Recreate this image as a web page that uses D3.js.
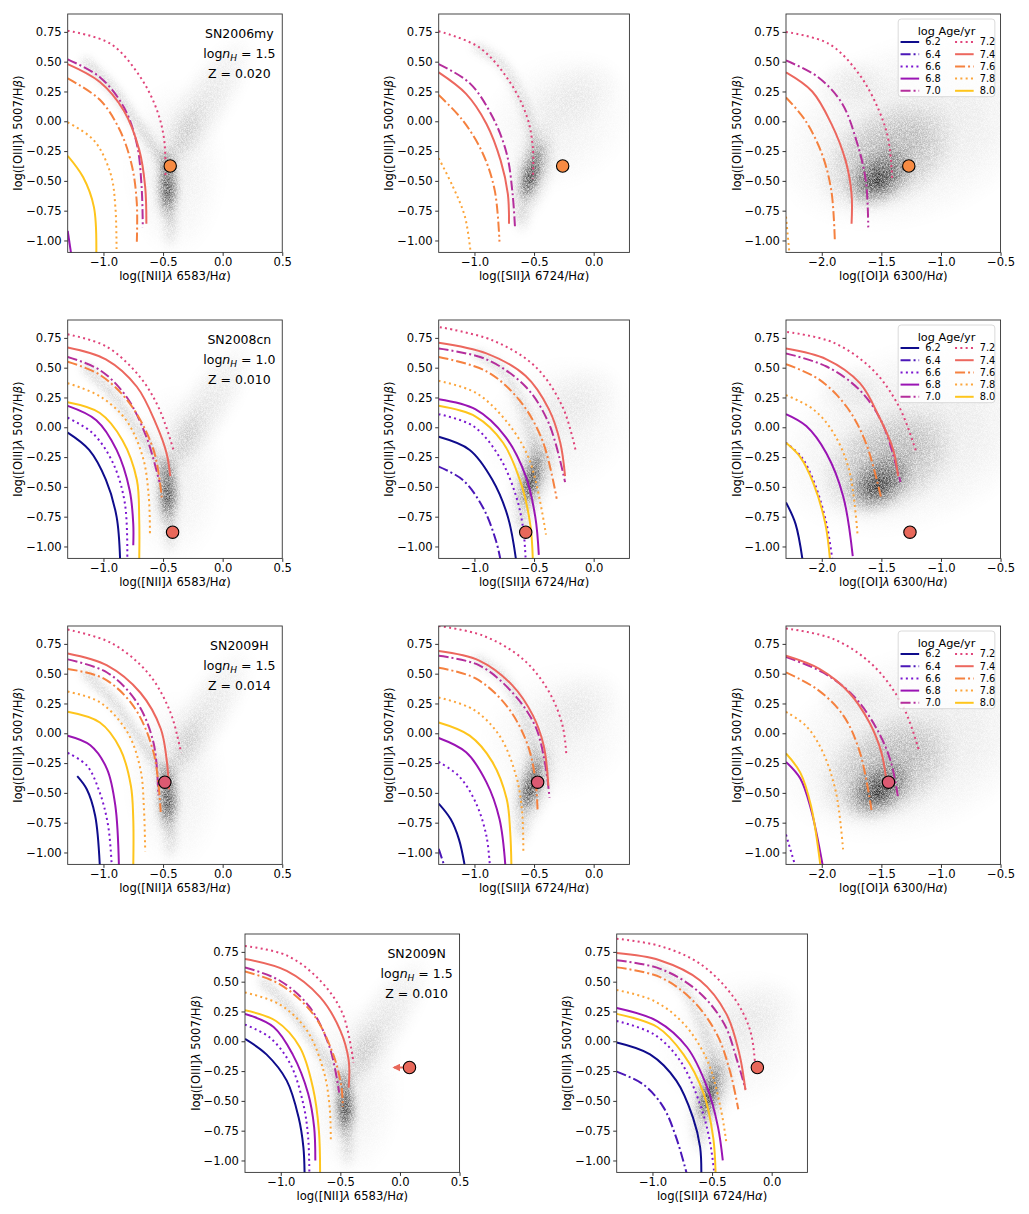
<!DOCTYPE html>
<html lang="en">
<head>
<meta charset="utf-8" />
<title>BPT diagrams with cluster age tracks</title>
<script src="https://cdn.jsdelivr.net/npm/d3@7"></script>
<style>
  body { margin: 0; background: #fff; }
  svg { font-family: "DejaVu Sans", sans-serif; }
</style>
</head>
<body>
<script>
// ages of the model tracks and their look
var ages = [6.2, 6.4, 6.6, 6.8, 7.0, 7.2, 7.4, 7.6, 7.8, 8.0];
var ageColors = ["#0f0c8c", "#4b17b8", "#7b16d0", "#9a14b4", "#b52e9c",
                 "#e0437a", "#ec675e", "#f5813f", "#fca53a", "#fec51c"];
var ageStyles = ["solid", "dashdot", "dotted", "solid", "dashdot",
                 "dotted", "solid", "dashdot", "dotted", "solid"];

// supernovae
var snNames = ["SN2006my", "SN2008cn", "SN2009H", "SN2009N"];
var snLogNH = ["1.5", "1.0", "1.5", "1.5"];
var snZ = ["0.020", "0.010", "0.014", "0.010"];
var snColors = ["#f78b43", "#e8685a", "#dc5a72", "#e8685a"];
var snNII = [[-0.44, -0.375], [-0.42, -0.88], [-0.485, -0.41], [0.08, -0.22]];
var snSII = [[-0.26, -0.375], [-0.57, -0.88], [-0.47, -0.41], [-0.12, -0.22]];
var snOI = [[-1.27, -0.375], [-1.26, -0.88], [-1.44, -0.41]];
var snNIIlimit = [null, null, null, -0.05];

// ticks
var yTicks = [0.75, 0.5, 0.25, 0, -0.25, -0.5, -0.75, -1.0];
var niiTicks = [-1.0, -0.5, 0.0, 0.5];
var siiTicks = [-1.0, -0.5, 0.0];
var oiTicks = [-2.0, -1.5, -1.0, -0.5];

// model tracks [age, points]
var sn2006myNII = [
  [6.8, [[-1.30, -0.92], [-1.27, -1.12]]],
  [7.0, [[-1.30, 0.52], [-1.03, 0.37], [-0.83, 0.12], [-0.72, -0.19], [-0.68, -0.55], [-0.67, -0.89]]],
  [7.2, [[-1.30, 0.76], [-0.94, 0.65], [-0.69, 0.37], [-0.55, 0.09], [-0.49, -0.16], [-0.48, -0.48]]],
  [7.4, [[-1.30, 0.48], [-1.03, 0.33], [-0.83, 0.09], [-0.70, -0.24], [-0.65, -0.55], [-0.64, -0.86]]],
  [7.6, [[-1.30, 0.36], [-1.03, 0.18], [-0.86, -0.08], [-0.76, -0.38], [-0.72, -0.69], [-0.72, -1.01]]],
  [7.8, [[-1.30, -0.01], [-1.08, -0.16], [-0.94, -0.44], [-0.90, -0.72], [-0.89, -1.12]]],
  [8.0, [[-1.30, -0.29], [-1.17, -0.47], [-1.08, -0.72], [-1.06, -1.12]]]
];
var sn2006mySII = [
  [7.0, [[-1.30, 0.48], [-1.04, 0.32], [-0.85, 0.04], [-0.73, -0.27], [-0.68, -0.61], [-0.66, -0.89]]],
  [7.2, [[-1.30, 0.756], [-0.96, 0.62], [-0.71, 0.34], [-0.56, 0.04], [-0.51, -0.22], [-0.51, -0.48]]],
  [7.4, [[-1.30, 0.41], [-1.07, 0.23], [-0.90, -0.02], [-0.78, -0.33], [-0.72, -0.61], [-0.71, -0.86]]],
  [7.6, [[-1.30, 0.22], [-1.10, 0.01], [-0.93, -0.27], [-0.83, -0.58], [-0.79, -1.01]]],
  [7.8, [[-1.30, -0.31], [-1.18, -0.55], [-1.08, -0.80], [-1.03, -1.12]]]
];
var sn2006myOI = [
  [7.0, [[-2.30, 0.51], [-2.03, 0.37], [-1.83, 0.15], [-1.71, -0.16], [-1.63, -0.50], [-1.61, -0.89]]],
  [7.2, [[-2.30, 0.75], [-1.94, 0.65], [-1.69, 0.40], [-1.52, 0.09], [-1.44, -0.16], [-1.41, -0.48]]],
  [7.4, [[-2.30, 0.41], [-2.08, 0.25], [-1.92, -0.02], [-1.80, -0.33], [-1.75, -0.61], [-1.75, -0.86]]],
  [7.6, [[-2.30, 0.20], [-2.14, 0.01], [-2.00, -0.27], [-1.92, -0.58], [-1.89, -1.01]]],
  [7.8, [[-2.30, -0.80], [-2.27, -1.12]]]
];
var sn2008cnNII = [
  [6.2, [[-1.30, -0.045], [-1.12, -0.19], [-0.98, -0.44], [-0.89, -0.75], [-0.86, -1.12]]],
  [6.6, [[-1.30, 0.08], [-1.09, -0.05], [-0.92, -0.30], [-0.82, -0.64], [-0.80, -1.12]]],
  [6.8, [[-1.30, 0.18], [-1.06, 0.06], [-0.89, -0.19], [-0.78, -0.53], [-0.75, -0.81], [-0.75, -0.99]]],
  [7.0, [[-1.30, 0.59], [-1.03, 0.48], [-0.81, 0.26], [-0.64, -0.08], [-0.53, -0.46]]],
  [7.2, [[-1.30, 0.78], [-0.98, 0.68], [-0.70, 0.43], [-0.53, 0.15], [-0.41, -0.20]]],
  [7.4, [[-1.30, 0.67], [-0.98, 0.57], [-0.72, 0.34], [-0.56, 0.03], [-0.47, -0.22], [-0.44, -0.41]]],
  [7.6, [[-1.30, 0.55], [-1.03, 0.44], [-0.78, 0.20], [-0.58, -0.19], [-0.51, -0.60]]],
  [7.8, [[-1.30, 0.37], [-1.03, 0.26], [-0.81, 0.06], [-0.67, -0.25], [-0.62, -0.58], [-0.61, -0.89]]],
  [8.0, [[-1.30, 0.21], [-1.03, 0.12], [-0.84, -0.11], [-0.72, -0.44], [-0.70, -0.78], [-0.70, -1.12]]]
];
var sn2008cnSII = [
  [6.2, [[-1.30, -0.08], [-1.04, -0.19], [-0.85, -0.44], [-0.72, -0.75], [-0.65, -1.12]]],
  [6.4, [[-1.30, -0.33], [-1.10, -0.44], [-0.93, -0.67], [-0.82, -0.95], [-0.78, -1.12]]],
  [6.6, [[-1.30, 0.11], [-1.01, 0.01], [-0.79, -0.25], [-0.65, -0.58], [-0.59, -0.86], [-0.57, -1.12]]],
  [6.8, [[-1.30, 0.235], [-0.99, 0.15], [-0.74, -0.08], [-0.57, -0.41], [-0.49, -0.75], [-0.46, -1.07]]],
  [7.0, [[-1.30, 0.66], [-0.90, 0.57], [-0.57, 0.34], [-0.375, 0.03], [-0.24, -0.46]]],
  [7.2, [[-1.29, 0.84], [-0.85, 0.73], [-0.49, 0.51], [-0.26, 0.17], [-0.15, -0.20]]],
  [7.4, [[-1.30, 0.71], [-0.90, 0.62], [-0.57, 0.43], [-0.375, 0.15], [-0.28, -0.13], [-0.24, -0.41]]],
  [7.6, [[-1.30, 0.59], [-0.90, 0.47], [-0.625, 0.23], [-0.43, -0.11], [-0.31, -0.60]]],
  [7.8, [[-1.30, 0.39], [-0.99, 0.29], [-0.74, 0.06], [-0.54, -0.27], [-0.40, -0.90]]],
  [8.0, [[-1.30, 0.18], [-0.99, 0.09], [-0.76, -0.13], [-0.60, -0.50], [-0.53, -0.83], [-0.51, -1.12]]]
];
var sn2008cnOI = [
  [6.2, [[-2.30, -0.63], [-2.22, -0.81], [-2.16, -1.12]]],
  [6.6, [[-2.30, -0.13], [-2.17, -0.25], [-2.06, -0.47], [-1.96, -0.81], [-1.91, -1.12]]],
  [6.8, [[-2.30, 0.11], [-2.13, 0.01], [-1.96, -0.22], [-1.82, -0.58], [-1.74, -1.08]]],
  [7.0, [[-2.30, 0.62], [-1.96, 0.51], [-1.68, 0.31], [-1.49, 0.03], [-1.34, -0.46]]],
  [7.2, [[-2.29, 0.80], [-1.90, 0.71], [-1.57, 0.48], [-1.35, 0.17], [-1.21, -0.20]]],
  [7.4, [[-2.30, 0.66], [-1.96, 0.57], [-1.68, 0.37], [-1.52, 0.09], [-1.40, -0.19], [-1.36, -0.41]]],
  [7.6, [[-2.30, 0.53], [-2.02, 0.40], [-1.79, 0.17], [-1.63, -0.13], [-1.50, -0.60]]],
  [7.8, [[-2.30, 0.27], [-2.07, 0.15], [-1.90, -0.05], [-1.77, -0.36], [-1.70, -0.90]]],
  [8.0, [[-2.30, -0.13], [-2.18, -0.25], [-2.07, -0.47], [-1.97, -0.81], [-1.93, -1.12]]]
];
var sn2009hNII = [
  [6.2, [[-1.22, -0.36], [-1.14, -0.47], [-1.07, -0.69], [-1.03, -1.12]]],
  [6.6, [[-1.30, -0.165], [-1.14, -0.27], [-1.03, -0.50], [-0.96, -0.78], [-0.93, -1.12]]],
  [6.8, [[-1.30, -0.02], [-1.11, -0.10], [-0.97, -0.30], [-0.90, -0.61], [-0.87, -1.12]]],
  [7.0, [[-1.30, 0.62], [-0.97, 0.51], [-0.72, 0.26], [-0.58, -0.08], [-0.54, -0.52]]],
  [7.2, [[-1.30, 0.87], [-0.94, 0.76], [-0.63, 0.51], [-0.44, 0.18], [-0.35, -0.16]]],
  [7.4, [[-1.30, 0.67], [-0.97, 0.57], [-0.69, 0.34], [-0.52, 0.04], [-0.47, -0.22], [-0.45, -0.47]]],
  [7.6, [[-1.30, 0.54], [-1.00, 0.46], [-0.75, 0.23], [-0.58, -0.16], [-0.52, -0.66]]],
  [7.8, [[-1.30, 0.35], [-1.03, 0.26], [-0.80, 0.01], [-0.69, -0.30], [-0.66, -0.64], [-0.65, -0.99]]],
  [8.0, [[-1.30, 0.18], [-1.03, 0.09], [-0.86, -0.13], [-0.77, -0.44], [-0.75, -0.72], [-0.75, -1.12]]]
];
var sn2009hSII = [
  [6.2, [[-1.30, -0.59], [-1.20, -0.72], [-1.13, -0.89], [-1.08, -1.12]]],
  [6.4, [[-1.30, -0.97], [-1.25, -1.12]]],
  [6.6, [[-1.30, -0.24], [-1.13, -0.36], [-0.99, -0.58], [-0.90, -0.86], [-0.87, -1.12]]],
  [6.8, [[-1.30, -0.04], [-1.07, -0.16], [-0.90, -0.41], [-0.79, -0.72], [-0.74, -1.12]]],
  [7.0, [[-1.30, 0.65], [-0.96, 0.57], [-0.68, 0.34], [-0.49, 0.06], [-0.41, -0.24], [-0.37, -0.54]]],
  [7.2, [[-1.30, 0.90], [-0.93, 0.82], [-0.59, 0.62], [-0.37, 0.34], [-0.26, 0.06], [-0.23, -0.17]]],
  [7.4, [[-1.30, 0.69], [-0.96, 0.61], [-0.68, 0.40], [-0.51, 0.15], [-0.42, -0.10], [-0.38, -0.44]]],
  [7.6, [[-1.30, 0.55], [-0.99, 0.46], [-0.73, 0.23], [-0.56, -0.08], [-0.49, -0.38], [-0.47, -0.66]]],
  [7.8, [[-1.30, 0.30], [-1.01, 0.20], [-0.79, -0.02], [-0.65, -0.36], [-0.60, -0.66], [-0.59, -0.99]]],
  [8.0, [[-1.30, 0.09], [-1.04, -0.02], [-0.85, -0.24], [-0.73, -0.55], [-0.70, -0.83], [-0.69, -1.12]]]
];
var sn2009hOI = [
  [6.6, [[-2.30, -0.85], [-2.22, -1.12]]],
  [6.8, [[-2.30, -0.24], [-2.18, -0.38], [-2.09, -0.64], [-1.99, -1.12]]],
  [7.0, [[-2.30, 0.64], [-1.99, 0.51], [-1.74, 0.32], [-1.54, 0.04], [-1.42, -0.24], [-1.36, -0.54]]],
  [7.2, [[-2.30, 0.88], [-1.90, 0.79], [-1.57, 0.57], [-1.32, 0.23], [-1.18, -0.16]]],
  [7.4, [[-2.30, 0.65], [-2.02, 0.54], [-1.77, 0.34], [-1.60, 0.09], [-1.50, -0.16], [-1.46, -0.38]]],
  [7.6, [[-2.30, 0.51], [-2.04, 0.37], [-1.82, 0.15], [-1.68, -0.16], [-1.58, -0.66]]],
  [7.8, [[-2.30, 0.18], [-2.13, 0.06], [-1.99, -0.16], [-1.88, -0.50], [-1.82, -0.99]]],
  [8.0, [[-2.30, -0.17], [-2.18, -0.33], [-2.09, -0.61], [-2.01, -1.12]]]
];
var sn2009nNII = [
  [6.2, [[-1.30, 0.02], [-1.12, -0.11], [-0.95, -0.33], [-0.85, -0.64], [-0.81, -0.89], [-0.80, -1.12]]],
  [6.6, [[-1.30, 0.14], [-1.09, 0.03], [-0.92, -0.19], [-0.81, -0.53], [-0.77, -0.81], [-0.76, -1.12]]],
  [6.8, [[-1.30, 0.23], [-1.06, 0.12], [-0.90, -0.11], [-0.77, -0.44], [-0.72, -0.72], [-0.71, -1.00]]],
  [7.0, [[-1.30, 0.62], [-1.01, 0.51], [-0.76, 0.29], [-0.59, -0.05], [-0.51, -0.43]]],
  [7.2, [[-1.30, 0.80], [-0.95, 0.72], [-0.67, 0.51], [-0.48, 0.23], [-0.39, -0.18]]],
  [7.4, [[-1.30, 0.69], [-0.95, 0.59], [-0.67, 0.37], [-0.50, 0.09], [-0.43, -0.16], [-0.43, -0.39]]],
  [7.6, [[-1.30, 0.585], [-1.01, 0.48], [-0.73, 0.23], [-0.56, -0.11], [-0.49, -0.39], [-0.48, -0.55]]],
  [7.8, [[-1.30, 0.41], [-1.01, 0.31], [-0.78, 0.09], [-0.64, -0.25], [-0.59, -0.55], [-0.58, -0.85]]],
  [8.0, [[-1.30, 0.26], [-1.04, 0.17], [-0.84, -0.05], [-0.73, -0.39], [-0.68, -0.75], [-0.67, -1.12]]]
];
var sn2009nSII = [
  [6.2, [[-1.30, -0.01], [-1.02, -0.11], [-0.80, -0.33], [-0.66, -0.64], [-0.60, -0.89], [-0.59, -1.12]]],
  [6.4, [[-1.30, -0.255], [-1.08, -0.36], [-0.91, -0.55], [-0.80, -0.81], [-0.71, -1.12]]],
  [6.6, [[-1.30, 0.17], [-0.99, 0.06], [-0.77, -0.16], [-0.60, -0.53], [-0.52, -0.83], [-0.48, -1.12]]],
  [6.8, [[-1.30, 0.28], [-0.96, 0.17], [-0.71, -0.05], [-0.54, -0.39], [-0.45, -0.72], [-0.41, -1.00]]],
  [7.0, [[-1.30, 0.68], [-0.94, 0.61], [-0.63, 0.43], [-0.40, 0.15], [-0.29, -0.16], [-0.22, -0.40]]],
  [7.2, [[-1.30, 0.86], [-0.94, 0.80], [-0.60, 0.65], [-0.32, 0.37], [-0.18, 0.09], [-0.14, -0.18]]],
  [7.4, [[-1.30, 0.74], [-0.94, 0.68], [-0.60, 0.51], [-0.38, 0.23], [-0.27, -0.11], [-0.22, -0.41]]],
  [7.6, [[-1.30, 0.62], [-0.94, 0.54], [-0.66, 0.34], [-0.46, 0.06], [-0.35, -0.25], [-0.28, -0.57]]],
  [7.8, [[-1.30, 0.43], [-0.99, 0.34], [-0.74, 0.15], [-0.54, -0.16], [-0.43, -0.55], [-0.38, -0.85]]],
  [8.0, [[-1.30, 0.23], [-0.96, 0.12], [-0.74, -0.11], [-0.57, -0.44], [-0.49, -0.81], [-0.47, -1.12]]]
];

// galaxy density, blobs [cx, cy, rx, ry, angle, alpha] and bands [points, width, alpha]
var niiBlobs = [
  [-0.40, -0.40, 0.42, 0.75, 0, 0.08],
  [-0.15, 0.15, 0.68, 0.23, 57, 0.12],
  [-0.32, -0.12, 0.34, 0.12, 62, 0.12],
  [-0.46, -0.56, 0.09, 0.30, 0, 0.75],
  [-0.46, -0.56, 0.05, 0.16, 0, 0.85],
  [-0.47, -0.34, 0.065, 0.13, 0, 0.4],
  [-0.44, -0.88, 0.065, 0.20, 0, 0.2]
];
var niiBands = [
  [[[-1.15, 0.50], [-0.92, 0.27], [-0.73, 0.0], [-0.56, -0.25], [-0.48, -0.42]], 0.06, 0.22]
];
var siiBlobs = [
  [-0.30, 0.00, 0.68, 0.56, 30, 0.07],
  [-0.15, 0.22, 0.42, 0.28, 30, 0.06],
  [-0.51, -0.42, 0.18, 0.46, -16, 0.25],
  [-0.52, -0.43, 0.08, 0.30, -16, 0.8],
  [-0.54, -0.50, 0.045, 0.15, -16, 0.75],
  [-0.60, -0.80, 0.08, 0.15, 0, 0.16]
];
var siiBands = [
  [[[-0.98, 0.62], [-0.77, 0.48], [-0.63, 0.25], [-0.54, 0.0], [-0.50, -0.2]], 0.07, 0.16]
];
var oiBlobs = [
  [-1.25, -0.08, 1.20, 0.78, 20, 0.12],
  [-1.45, -0.30, 0.64, 0.42, 30, 0.3],
  [-1.52, -0.47, 0.32, 0.21, 35, 0.65],
  [-1.54, -0.50, 0.15, 0.11, 35, 0.6],
  [-1.75, 0.32, 0.30, 0.22, 0, 0.08]
];
var oiBands = [];

// layout
var pxPerDex = 119.2;
var rowTop = [14, 320, 626, 934];
var colLeft = [67.7, 438.7, 786];
var row4Left = [245, 616.7];
var W = 1029, H = 1214;

var kinds = {
  nii: { domain: [-1.3, 0.5], ticks: niiTicks, ion: "[NII]", wave: " 6583/H", blobs: niiBlobs, bands: niiBands },
  sii: { domain: [-1.3, 0.3], ticks: siiTicks, ion: "[SII]", wave: " 6724/H", blobs: siiBlobs, bands: siiBands },
  oi:  { domain: [-2.3, -0.5], ticks: oiTicks, ion: "[OI]", wave: " 6300/H", blobs: oiBlobs, bands: oiBands }
};

var dashes = { solid: null, dashdot: "10,3,2,3", dotted: "2,3.3" };

var svg = d3.select("body").append("svg")
  .attr("width", W).attr("height", H);

var defs = svg.append("defs");

//Soft fall-off for the density blobs
var grad = defs.append("radialGradient").attr("id", "blobGrad");
grad.append("stop").attr("offset", 0).attr("stop-color", "#000").attr("stop-opacity", 1);
grad.append("stop").attr("offset", 0.5).attr("stop-color", "#000").attr("stop-opacity", 0.6);
grad.append("stop").attr("offset", 1).attr("stop-color", "#000").attr("stop-opacity", 0);

//Density filter: blur and a fine grain
var filt = defs.append("filter").attr("id", "dens")
  .attr("filterUnits", "userSpaceOnUse")
  .attr("x", 0).attr("y", 0).attr("width", W).attr("height", H);
filt.append("feGaussianBlur").attr("in", "SourceGraphic").attr("stdDeviation", 4).attr("result", "b");
filt.append("feTurbulence").attr("type", "fractalNoise").attr("baseFrequency", 1.6)
  .attr("numOctaves", 1).attr("seed", 4).attr("result", "n");
filt.append("feColorMatrix").attr("in", "n").attr("type", "matrix")
  .attr("values", "0 0 0 0 0  0 0 0 0 0  0 0 0 0 0  1.6 0 0 0 -0.1").attr("result", "na");
filt.append("feComposite").attr("in", "b").attr("in2", "na").attr("operator", "in");

defs.append("marker").attr("id", "arrowhead")
  .attr("viewBox", "0 0 10 10").attr("refX", 8).attr("refY", 5)
  .attr("markerWidth", 4).attr("markerHeight", 4).attr("orient", "auto")
  .attr("markerUnits", "strokeWidth")
  .append("path").attr("d", "M0,0L10,5L0,10z").attr("fill", snColors[3]);

var panels = [
  { sn: 0, kind: "nii", tracks: sn2006myNII, left: colLeft[0], top: rowTop[0] },
  { sn: 0, kind: "sii", tracks: sn2006mySII, left: colLeft[1], top: rowTop[0] },
  { sn: 0, kind: "oi",  tracks: sn2006myOI,  left: colLeft[2], top: rowTop[0], legend: true },
  { sn: 1, kind: "nii", tracks: sn2008cnNII, left: colLeft[0], top: rowTop[1] },
  { sn: 1, kind: "sii", tracks: sn2008cnSII, left: colLeft[1], top: rowTop[1] },
  { sn: 1, kind: "oi",  tracks: sn2008cnOI,  left: colLeft[2], top: rowTop[1], legend: true },
  { sn: 2, kind: "nii", tracks: sn2009hNII, left: colLeft[0], top: rowTop[2] },
  { sn: 2, kind: "sii", tracks: sn2009hSII, left: colLeft[1], top: rowTop[2] },
  { sn: 2, kind: "oi",  tracks: sn2009hOI,  left: colLeft[2], top: rowTop[2], legend: true },
  { sn: 3, kind: "nii", tracks: sn2009nNII, left: row4Left[0], top: rowTop[3] },
  { sn: 3, kind: "sii", tracks: sn2009nSII, left: row4Left[1], top: rowTop[3] }
];
var snPoints = { nii: snNII, sii: snSII, oi: snOI };

panels.forEach(function (p, pi) {
  var k = kinds[p.kind];
  var w = (k.domain[1] - k.domain[0]) * pxPerDex;
  var h = 2.0 * pxPerDex;
  var x = d3.scaleLinear().domain(k.domain).range([0, w]);
  var y = d3.scaleLinear().domain([-1.1, 0.9]).range([h, 0]);
  var g = svg.append("g").attr("transform", "translate(" + p.left + "," + p.top + ")");

  defs.append("clipPath").attr("id", "clip" + pi)
    .append("rect").attr("width", w).attr("height", h);

  var plot = g.append("g").attr("clip-path", "url(#clip" + pi + ")");

  //Density of galaxies
  var dens = plot.append("g").attr("filter", "url(#dens)");
  dens.selectAll("ellipse").data(k.blobs).enter().append("ellipse")
    .attr("transform", function (d) {
      return "translate(" + x(d[0]) + "," + y(d[1]) + ") rotate(" + (-d[4]) + ")";
    })
    .attr("rx", function (d) { return d[2] * pxPerDex; })
    .attr("ry", function (d) { return d[3] * pxPerDex; })
    .attr("fill", "url(#blobGrad)")
    .attr("fill-opacity", function (d) { return d[5]; });
  var bandLine = d3.line().x(function (d) { return x(d[0]); })
    .y(function (d) { return y(d[1]); }).curve(d3.curveCatmullRom);
  dens.selectAll("path").data(k.bands).enter().append("path")
    .attr("d", function (d) { return bandLine(d[0]); })
    .attr("fill", "none").attr("stroke", "#000")
    .attr("stroke-width", function (d) { return d[1] * pxPerDex; })
    .attr("stroke-linecap", "round")
    .attr("stroke-opacity", function (d) { return d[2]; });

  //Model tracks
  var line = d3.line().x(function (d) { return x(d[0]); })
    .y(function (d) { return y(d[1]); }).curve(d3.curveCatmullRom.alpha(0.5));
  var tracks = p.tracks.slice().sort(function (a, b) { return a[0] - b[0]; });
  plot.selectAll("path.track").data(tracks).enter().append("path")
    .attr("class", "track")
    .attr("d", function (d) { return line(d[1]); })
    .attr("fill", "none")
    .attr("stroke", function (d) { return ageColors[ages.indexOf(d[0])]; })
    .attr("stroke-width", 2)
    .attr("stroke-dasharray", function (d) { return dashes[ageStyles[ages.indexOf(d[0])]]; });

  //Supernova
  var pt = snPoints[p.kind][p.sn];
  if (p.kind === "nii" && snNIIlimit[p.sn] !== null) {
    plot.append("line")
      .attr("x1", x(pt[0])).attr("y1", y(pt[1]))
      .attr("x2", x(snNIIlimit[p.sn])).attr("y2", y(pt[1]))
      .attr("stroke", snColors[p.sn]).attr("stroke-width", 2)
      .attr("marker-end", "url(#arrowhead)");
  }
  plot.append("circle")
    .attr("cx", x(pt[0])).attr("cy", y(pt[1])).attr("r", 6.2)
    .attr("fill", snColors[p.sn]).attr("stroke", "#000").attr("stroke-width", 1.1);

  //Spines
  g.append("rect").attr("width", w).attr("height", h)
    .attr("fill", "none").attr("stroke", "#333").attr("stroke-width", 0.9);

  //Axes
  var xAxis = d3.axisBottom(x).tickValues(k.ticks).tickFormat(d3.format(".1f"))
    .tickSize(3.5).tickPadding(2);
  var yAxis = d3.axisLeft(y).tickValues(yTicks).tickFormat(d3.format(".2f"))
    .tickSize(3.5).tickPadding(2.5);
  var xa = g.append("g").attr("transform", "translate(0," + h + ")").call(xAxis);
  var ya = g.append("g").call(yAxis);
  [xa, ya].forEach(function (a) {
    a.select(".domain").remove();
    a.selectAll("text").attr("font-size", "11.6px").attr("font-family", "DejaVu Sans").attr("fill", "#000");
    a.selectAll("line").attr("stroke", "#333");
  });

  //Axis labels
  var xl = g.append("text").attr("x", w / 2).attr("y", h + 27.5)
    .attr("text-anchor", "middle").attr("font-size", "11.6px");
  xl.append("tspan").text("log(" + k.ion);
  xl.append("tspan").attr("font-style", "italic").text("λ");
  xl.append("tspan").text(k.wave);
  xl.append("tspan").attr("font-style", "italic").text("α");
  xl.append("tspan").text(")");

  var yl = g.append("text")
    .attr("transform", "translate(-45.5," + (h / 2) + ") rotate(-90)")
    .attr("text-anchor", "middle").attr("font-size", "11.6px");
  yl.append("tspan").text("log([OIII]");
  yl.append("tspan").attr("font-style", "italic").text("λ");
  yl.append("tspan").text(" 5007/H");
  yl.append("tspan").attr("font-style", "italic").text("β");
  yl.append("tspan").text(")");

  //Annotation
  if (p.kind === "nii") {
    var ax = w * 0.8;
    g.append("text").attr("x", ax).attr("y", 24).attr("text-anchor", "middle")
      .attr("font-size", "12.5px").text(snNames[p.sn]);
    var t2 = g.append("text").attr("x", ax).attr("y", 44).attr("text-anchor", "middle")
      .attr("font-size", "12.5px");
    t2.append("tspan").text("log");
    t2.append("tspan").attr("font-style", "italic").text("n");
    t2.append("tspan").attr("font-style", "italic").attr("font-size", "9px").attr("dy", 2.5).text("H");
    t2.append("tspan").attr("dy", -2.5).text(" = " + snLogNH[p.sn]);
    g.append("text").attr("x", ax).attr("y", 64).attr("text-anchor", "middle")
      .attr("font-size", "12.5px").text("Z = " + snZ[p.sn]);
  }

  //Legend
  if (p.legend) {
    var lg = g.append("g").attr("transform", "translate(" + (w - 102.4) + ",5)");
    lg.append("rect").attr("width", 96.7).attr("height", 77.7).attr("rx", 3)
      .attr("fill", "#fff").attr("fill-opacity", 0.8)
      .attr("stroke", "#d0d0d0").attr("stroke-width", 0.8);
    lg.append("text").attr("x", 48.4).attr("y", 16.3).attr("text-anchor", "middle")
      .attr("font-size", "11.3px").text("log Age/yr");
    var item = lg.selectAll("g.item").data(ages).enter().append("g")
      .attr("class", "item")
      .attr("transform", function (d, i) {
        return "translate(" + (Math.floor(i / 5) * 54.5) + "," + (23 + (i % 5) * 12.2) + ")";
      });
    item.append("line").attr("x1", 2.4).attr("x2", 21)
      .attr("stroke", function (d, i) { return ageColors[i]; })
      .attr("stroke-width", 2)
      .attr("stroke-dasharray", function (d, i) { return dashes[ageStyles[i]]; });
    item.append("text").attr("x", 27).attr("dy", "0.35em")
      .attr("font-size", "9.8px").text(function (d) { return d.toFixed(1); });
  }
});
</script>
</body>
</html>
